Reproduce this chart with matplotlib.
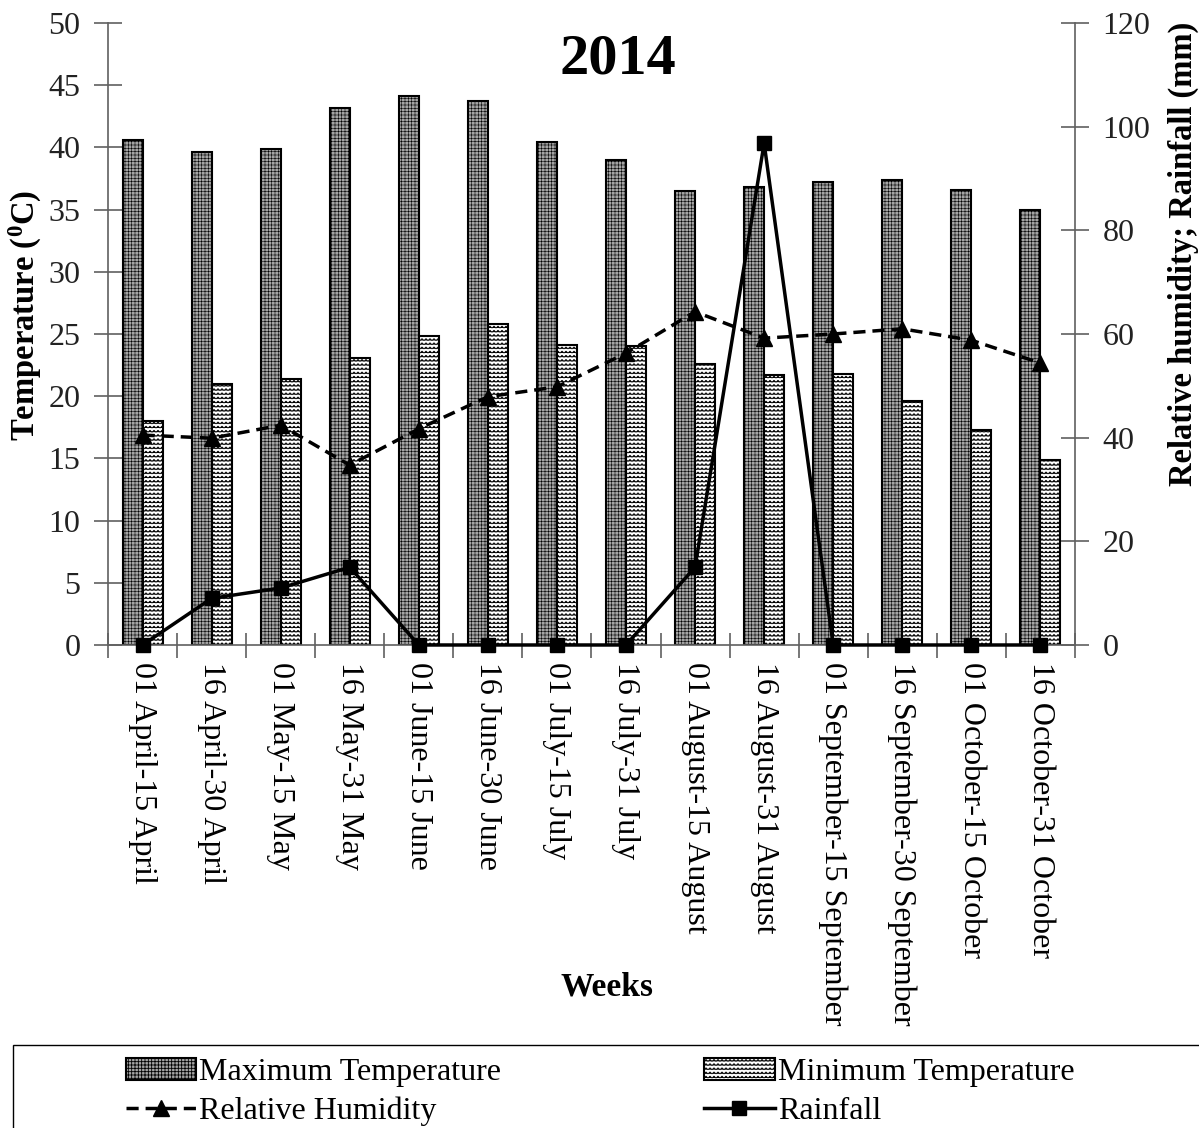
import numpy as np
import matplotlib
matplotlib.use("Agg")
import matplotlib.pyplot as plt
import matplotlib.hatch as mhatch
from matplotlib.path import Path
from matplotlib.patches import Rectangle

plt.rcParams["font.family"] = ["Liberation Serif", "DejaVu Serif"]
plt.rcParams["mathtext.fontset"] = "custom"
plt.rcParams["mathtext.rm"] = "Liberation Serif"
plt.rcParams["mathtext.bf"] = "Liberation Serif:bold"
plt.rcParams["hatch.color"] = "black"


# '-' draws wavy (zigzag) rows, '+' still draws straight rows
class WavyHorizontalHatch(mhatch.HatchPatternBase):
    teeth = 25

    def __init__(self, hatch, density):
        self.num_wavy = int(hatch.count('-') * density)
        self.num_flat = int(hatch.count('+') * density)
        self.pts = 2 * self.teeth + 1
        self.num_vertices = self.num_wavy * self.pts + self.num_flat * 2

    def set_vertices_and_codes(self, vertices, codes):
        c = 0
        if self.num_wavy:
            steps, step = np.linspace(0.0, 1.0, self.num_wavy, False, retstep=True)
            steps += step / 2.
            xs = np.linspace(0.0, 1.0, self.pts)
            offs = np.where(np.arange(self.pts) % 2 == 0, -1, 1) * step * 0.22
            for y in steps:
                vertices[c:c + self.pts, 0] = xs
                vertices[c:c + self.pts, 1] = y + offs
                codes[c] = Path.MOVETO
                codes[c + 1:c + self.pts] = Path.LINETO
                c += self.pts
        if self.num_flat:
            steps, step = np.linspace(0.0, 1.0, self.num_flat, False, retstep=True)
            steps += step / 2.
            for y in steps:
                vertices[c] = (0.0, y)
                vertices[c + 1] = (1.0, y)
                codes[c] = Path.MOVETO
                codes[c + 1] = Path.LINETO
                c += 2


mhatch._hatch_types = [WavyHorizontalHatch if t is mhatch.HorizontalHatch else t
                       for t in mhatch._hatch_types]

# fortnightly weather, 2014
weeks = ["01 April-15 April", "16 April-30 April", "01 May-15 May", "16 May-31 May",
         "01 June-15 June", "16 June-30 June", "01 July-15 July", "16 July-31 July",
         "01 August-15 August", "16 August-31 August", "01 September-15 September",
         "16 September-30 September", "01 October-15 October", "16 October-31 October"]
max_temp = [40.6, 39.6, 39.9, 43.2, 44.1, 43.7, 40.4, 39.0, 36.5, 36.8, 37.2, 37.4, 36.6, 35.0]
min_temp = [18.0, 21.0, 21.4, 23.1, 24.8, 25.8, 24.1, 24.0, 22.6, 21.7, 21.8, 19.6, 17.3, 14.9]
humidity = [40.5, 39.9, 42.4, 34.7, 41.7, 47.9, 49.8, 56.3, 64.3, 59.2, 60.0, 61.0, 58.8, 54.4]
rainfall = [0, 9.0, 11.0, 15.0, 0, 0, 0, 0, 15.0, 96.8, 0, 0, 0, 0]

x = np.arange(len(weeks))
w = 0.29
axis_grey = "#606060"
tick_size = 23

fig = plt.figure(figsize=(11.99, 11.28), dpi=100)
ax1 = fig.add_axes([0.0901, 0.4282, 0.8064, 0.5514])

plt.rcParams["hatch.linewidth"] = 0.4
b1 = ax1.bar(x - w / 2, max_temp, w, facecolor="#a4a4a4", edgecolor="black",
             linewidth=1.5, hatch="+++++", label="Maximum Temperature", zorder=2)
plt.rcParams["hatch.linewidth"] = 0.6
b2 = ax1.bar(x + w / 2, min_temp, w, facecolor="white", edgecolor="black",
             linewidth=1.5, hatch="----", label="Minimum Temperature", zorder=2)

ax1.set_xlim(-0.5, len(weeks) - 0.5)
ax1.set_ylim(0, 50)
ax1.set_yticks(np.arange(0, 51, 5))
ax1.set_xticks(x)
ax1.set_xticklabels(weeks, rotation=270, va="top", ha="center")
ax1.set_xticks(np.arange(-0.5, len(weeks)), minor=True)
ax1.tick_params(axis="x", which="major", length=0, pad=12, labelsize=tick_size)
ax1.tick_params(axis="x", which="minor", length=18, direction="inout",
                color=axis_grey, width=1.2)
ax1.tick_params(axis="y", length=20, direction="inout", color=axis_grey,
                width=1.2, pad=10, labelsize=tick_size, labelcolor="#222222")
for s in ["top", "right"]:
    ax1.spines[s].set_visible(False)
for s in ["left", "bottom"]:
    ax1.spines[s].set_color(axis_grey)
    ax1.spines[s].set_linewidth(1.2)

ax2 = ax1.twinx()
ax2.set_ylim(0, 120)
ax2.set_yticks(np.arange(0, 121, 20))
ax2.tick_params(axis="y", length=20, direction="inout", color=axis_grey,
                width=1.2, pad=10, labelsize=tick_size, labelcolor="#222222")
for s in ["top", "left", "bottom"]:
    ax2.spines[s].set_visible(False)
ax2.spines["right"].set_color(axis_grey)
ax2.spines["right"].set_linewidth(1.2)

l1, = ax2.plot(x, humidity, color="black", linestyle=(0, (3.5, 2)), linewidth=2.5,
               marker="^", markersize=11, label="Relative Humidity", zorder=3)
l2, = ax2.plot(x, rainfall, color="black", linewidth=2.5, marker="s",
               markersize=10, label="Rainfall", zorder=4, clip_on=False)

fig.text(0.515, 0.947, "2014", fontsize=42, fontweight="bold", ha="center", va="center")
fig.text(0.021, 0.72, r"Temperature ($\mathbf{^{0}}$C)", fontsize=23.5, fontweight="bold",
         rotation=90, ha="center", va="center")
fig.text(0.987, 0.775, "Relative humidity; Rainfall (mm)", fontsize=23.5, fontweight="bold",
         rotation=90, ha="center", va="center")
fig.text(0.506, 0.125, "Weeks", fontsize=24, fontweight="bold", ha="center", va="center")

# legend box runs off the right and bottom edges
fig.add_artist(Rectangle((13 / 1199, -0.05), 1.0, 0.05 + 1 - 1045 / 1128,
                         transform=fig.transFigure, facecolor="none",
                         edgecolor="black", linewidth=1.0))
leg = fig.legend([b1, l1, b2, l2],
                 ["Maximum Temperature", "Relative Humidity", "Minimum Temperature", "Rainfall"],
                 loc="upper left", bbox_to_anchor=(126 / 1199, 1 - 1058 / 1128),
                 ncol=2, fontsize=23, frameon=False,
                 handlelength=2.2, handletextpad=0.1, numpoints=1, borderaxespad=0,
                 labelspacing=0.3, borderpad=0, columnspacing=6.35)

fig.savefig("out.png", dpi=100)
